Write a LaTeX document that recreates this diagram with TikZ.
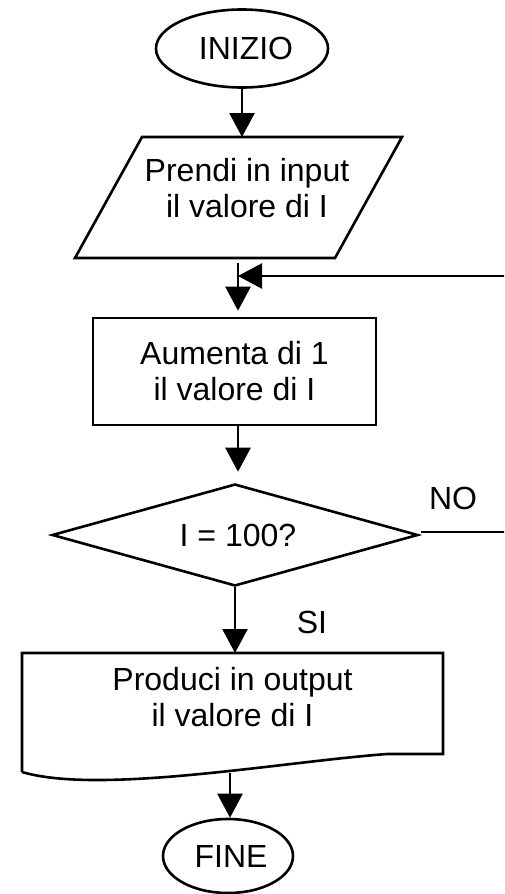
\documentclass[tikz,border=0pt]{standalone}
\usepackage{fontspec}
\setmainfont{Liberation Sans}
\usetikzlibrary{shapes.geometric,arrows.meta}
\begin{document}
\begin{tikzpicture}[x=1pt,y=-1pt,
  every node/.style={font=\fontsize{32}{36}\selectfont, align=center},
  box/.style={draw, line width=2.6pt, inner sep=0pt},
  outline/.style={draw, line width=2.6pt, line join=miter},
  flow/.style={line width=2.6pt, -{Triangle[length=24pt,width=25pt]}}]
\useasboundingbox (0,0) rectangle (504,894);
\clip (0,0) rectangle (504,894);

% terminals
\node[box, ellipse, minimum width=172pt, minimum height=78pt] (start) at (242,48.5) {\hspace*{8pt}INIZIO};
\node[box, ellipse, minimum width=130pt, minimum height=74pt] (end) at (228,856) {\hspace*{6pt}FINE};

% input parallelogram
\coordinate (pTL) at (142,137);
\coordinate (pTR) at (402,137);
\coordinate (pBR) at (335,258);
\coordinate (pBL) at (75,258);
\draw[outline] (pTL) -- (pTR) -- (pBR) -- (pBL) -- cycle;
\node (input) at (247,188) {Prendi in input\\il valore di I};

% process
\node[box, rectangle, minimum width=283pt, minimum height=107pt] (incr) at (234.5,371.5) {Aumenta di 1\\il valore di I};

% decision
\node[box, diamond, aspect=3.6, minimum width=366pt, minimum height=102pt] (test) at (235,535) {\hspace*{6pt}I = 100?};

% output document
\coordinate (dTL) at (22,653);
\coordinate (dTR) at (443,653);
\coordinate (dBR) at (443,754);
\coordinate (dBL) at (22,772);
\draw[outline] (dBL) -- (dTL) -- (dTR) -- (dBR) -- (387,754)
  .. controls (280,762) and (100,795) .. (dBL);
\node (output) at (232.5,697.4) {Produci in output\\il valore di I};

% connectors
\coordinate (join) at (238,263);
\coordinate (merge) at (238,276);
\coordinate (noout) at (421,532);
\coordinate (loopR) at (520,532);
\coordinate (docout) at (230,773);

\draw[flow] (start.south) -- (start.south |- pTL);
\draw[flow, shorten >=6pt] (join) -- (join |- incr.north);
\draw[flow, shorten >=11pt] (incr.south -| join) -- (test.north -| join);
\draw[flow] (test.south) -- (test.south |- dTL);
\draw[flow] (docout) -- (docout |- end.north);
\draw[flow] (noout) -- (loopR) -- (loopR |- merge) -- (merge);

% branch labels
\node (no) at (453,498) {NO};
\node (si) at (312,622) {SI};
\end{tikzpicture}
\end{document}
